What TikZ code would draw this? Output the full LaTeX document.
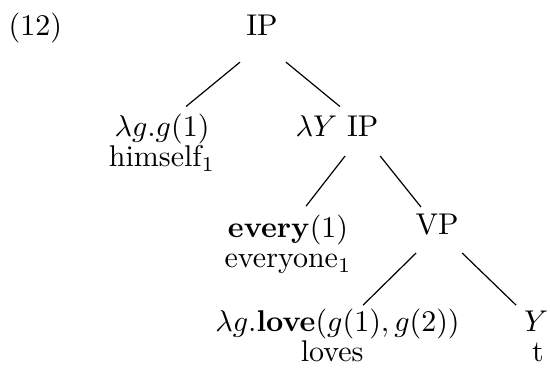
\documentclass[tikz,border=0pt]{standalone}
\usepackage{amsmath}
\usepackage{amssymb}
\usepackage{xcolor}
\usepackage{tikz}

\begin{document}
\begin{tikzpicture}[x=1pt,y=1pt,lbl/.style={anchor=base,inner sep=0pt}]
  \useasboundingbox (0,0) rectangle (183.3,-123.3);
  \node[lbl,anchor=base west] (num) at (2.7,-11.7) {(12)};
  \node[lbl] (ip) at (87.3,-11.7) {IP};
  \node[lbl] (lamg) at (54,-45.5) {$\lambda g.g(1)$};
  \node[lbl] (himself) at (54,-55.6) {himself$_1$};
  \node[lbl] (lamy) at (112.3,-45.5) {$\lambda Y$ IP};
  \node[lbl] (every) at (96,-79) {$\mathbf{every}(1)$};
  \node[lbl] (everyone) at (96,-89.3) {everyone$_1$};
  \node[lbl] (vp) at (145.7,-78.3) {VP};
  \node[lbl] (love) at (112.5,-110.4) {$\lambda g\mathbf{.love}(g(1),g(2))$};
  \node[lbl] (loves) at (110.7,-120.6) {loves};
  \node[lbl] (y) at (178.7,-110.4) {$Y$};
  \node[lbl] (t) at (179.3,-120.6) {t};
  \draw ([xshift=-7.3pt,yshift=-9pt]ip.base) -- ([xshift=8pt,yshift=10pt]lamg.base);
  \draw ([xshift=8pt,yshift=-9pt]ip.base) -- ([xshift=1pt,yshift=10pt]lamy.base);
  \draw ([xshift=2.7pt,yshift=-6.5pt]lamy.base) -- ([xshift=6pt,yshift=10.3pt]every.base);
  \draw ([xshift=14.4pt,yshift=-6.5pt]lamy.base) -- ([xshift=-5.4pt,yshift=9.3pt]vp.base);
  \draw ([xshift=-7pt,yshift=-6pt]vp.base) -- ([xshift=8.5pt,yshift=8.7pt]love.base);
  \draw ([xshift=8.3pt,yshift=-6pt]vp.base) -- ([xshift=-6.7pt,yshift=8.7pt]y.base);
\end{tikzpicture}
\end{document}
